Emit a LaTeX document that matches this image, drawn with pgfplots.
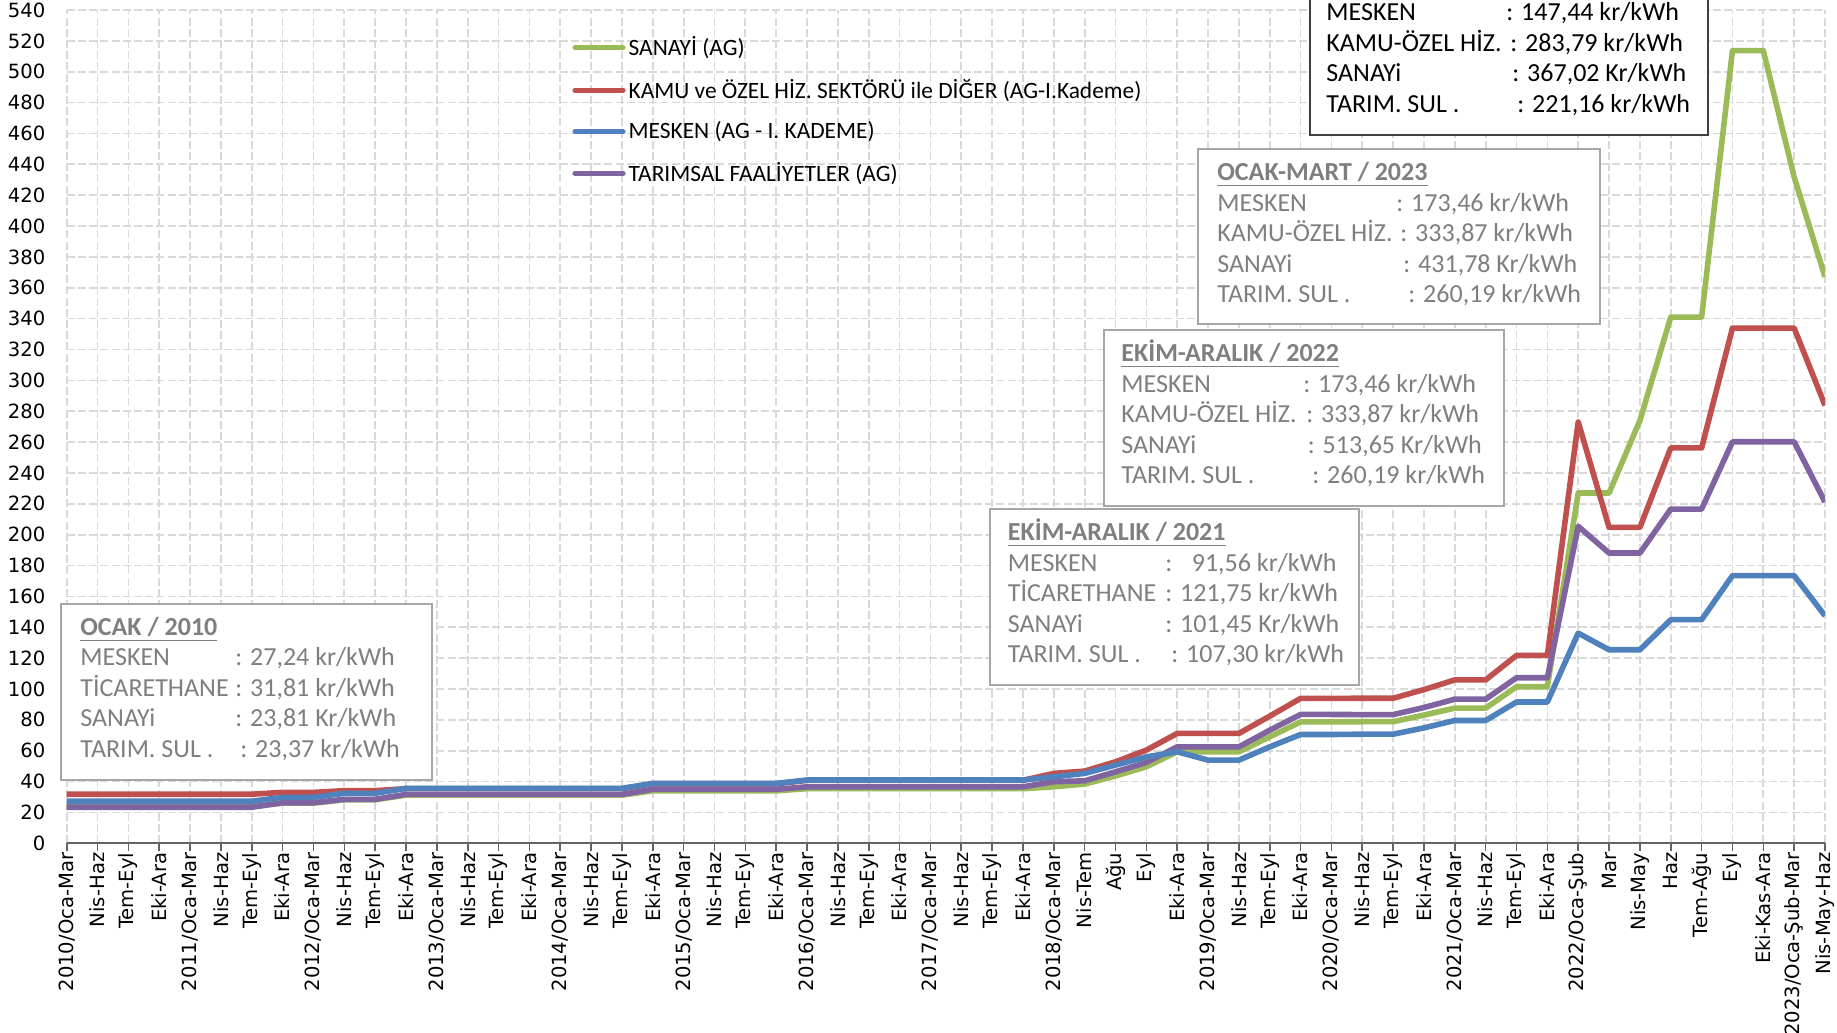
\documentclass[border=0pt]{standalone}
\usepackage{fontspec}
\usepackage{pgfplots}
\usepackage{pgfplotstable}
\pgfplotsset{compat=1.18}
\setmainfont{Carlito}
\newfontfamily\dejavu{DejaVu Sans}
\newcommand\tickf{\dejavu\fontsize{9.8pt}{11pt}\selectfont}
\newcommand\legf{\fontsize{11.7pt}{14pt}\selectfont}
\newcommand\annf{\fontsize{13pt}{15pt}\selectfont}
\definecolor{sanayi}{RGB}{155,187,89}
\definecolor{kamu}{RGB}{192,80,77}
\definecolor{mesken}{RGB}{79,129,189}
\definecolor{tarim}{RGB}{128,100,162}
\definecolor{gridgray}{RGB}{217,217,217}
\definecolor{axisgray}{RGB}{100,100,100}
\definecolor{anngray}{RGB}{127,127,127}
\definecolor{boxgray}{RGB}{166,166,166}

\pgfplotstableread{
i g r b p
0 23.81 31.81 27.24 23.37
1 23.81 31.81 27.24 23.37
2 23.81 31.81 27.24 23.37
3 23.81 31.81 27.24 23.37
4 23.81 31.81 27.24 23.37
5 23.81 31.81 27.24 23.37
6 23.81 31.81 27.24 23.37
7 26.0 33.0 29.8 26.3
8 26.0 33.0 29.8 26.3
9 28.2 34.1 32.4 28.5
10 28.2 34.1 32.4 28.5
11 31.2 35.4 35.6 31.7
12 31.2 35.4 35.6 31.7
13 31.2 35.4 35.6 31.7
14 31.2 35.4 35.6 31.7
15 31.2 35.4 35.6 31.7
16 31.2 35.4 35.6 31.7
17 31.2 35.4 35.6 31.7
18 31.2 35.4 35.6 31.7
19 34.0 38.6 38.8 35.0
20 34.0 38.6 38.8 35.0
21 34.0 38.6 38.8 35.0
22 34.0 38.6 38.8 35.0
23 34.0 38.6 38.8 35.0
24 35.4 40.8 41.0 36.6
25 35.4 40.8 41.0 36.6
26 35.4 40.8 41.0 36.6
27 35.4 40.8 41.0 36.6
28 35.4 40.8 41.0 36.6
29 35.4 40.8 41.0 36.6
30 35.4 40.8 41.0 36.6
31 35.4 40.8 41.0 36.6
32 36.6 45.3 43.1 39.9
33 38.4 46.8 45.3 40.5
34 43.6 52.8 50.7 46.3
35 49.6 60.4 56.0 52.4
36 59.3 71.2 59.3 62.5
37 59.3 71.2 53.9 62.5
38 59.3 71.2 53.9 62.5
39 69.0 82.4 62.5 73.3
40 78.7 93.9 70.5 83.5
41 78.7 93.9 70.5 83.5
42 78.8 94.0 70.7 83.4
43 78.8 94.0 70.7 83.4
44 83.1 99.6 74.8 88.0
45 87.6 105.9 79.6 93.4
46 87.6 105.9 79.6 93.4
47 101.45 121.75 91.56 107.30
48 101.45 121.75 91.56 107.30
49 227.0 273.0 136.2 205.4
50 227.0 204.7 125.4 188.1
51 274.0 204.7 125.4 188.1
52 341.0 256.2 144.9 216.6
53 341.0 256.2 144.9 216.6
54 513.65 333.87 173.46 260.19
55 513.65 333.87 173.46 260.19
56 431.78 333.87 173.46 260.19
57 367.02 283.79 147.44 221.16
}\tarife

\begin{document}
\begin{tikzpicture}
\useasboundingbox (0pt,0pt) rectangle (918.5pt,516.5pt);
\begin{axis}[
  at={(33.35pt,94.85pt)}, anchor=south west,
  width=879.15pt, height=416.65pt, scale only axis,
  xmin=0, xmax=57, ymin=0, ymax=540,
  enlargelimits=false,
  axis x line*=bottom, axis y line*=left,
  y axis line style={draw=none},
  x axis line style={draw=axisgray, line width=1pt, -},
  xtick={0,...,57},
  xticklabels={2010/Oca-Mar,Nis-Haz,Tem-Eyl,Eki-Ara,
    2011/Oca-Mar,Nis-Haz,Tem-Eyl,Eki-Ara,
    2012/Oca-Mar,Nis-Haz,Tem-Eyl,Eki-Ara,
    2013/Oca-Mar,Nis-Haz,Tem-Eyl,Eki-Ara,
    2014/Oca-Mar,Nis-Haz,Tem-Eyl,Eki-Ara,
    2015/Oca-Mar,Nis-Haz,Tem-Eyl,Eki-Ara,
    2016/Oca-Mar,Nis-Haz,Tem-Eyl,Eki-Ara,
    2017/Oca-Mar,Nis-Haz,Tem-Eyl,Eki-Ara,
    2018/Oca-Mar,Nis-Tem,Ağu,Eyl,Eki-Ara,
    2019/Oca-Mar,Nis-Haz,Tem-Eyl,Eki-Ara,
    2020/Oca-Mar,Nis-Haz,Tem-Eyl,Eki-Ara,
    2021/Oca-Mar,Nis-Haz,Tem-Eyl,Eki-Ara,
    2022/Oca-Şub,Mar,Nis-May,Haz,Tem-Ağu,Eyl,Eki-Kas-Ara,
    2023/Oca-Şub-Mar,Nis-May-Haz},
  ytick={0,20,...,540},
  grid=major,
  grid style={dash pattern=on 4pt off 1.6pt, draw=gridgray, line width=0.85pt},
  tick align=outside,
  major tick length=4pt,
  xtick style={draw=axisgray, line width=0.8pt},
  ytick style={draw=none},
  x tick label style={rotate=90, anchor=east, font=\tickf, inner sep=0.5pt},
  y tick label style={font=\tickf, anchor=east, inner sep=0pt, xshift=-6.5pt},
  /pgf/number format/assume math mode=true,
  legend style={at={(0.2874,0.972)}, anchor=north west, draw=none, fill=none,
    font=\legf, row sep=7.2pt, inner sep=0pt,
    nodes={inner sep=1.5pt, anchor=west}},
  legend cell align=left,
  legend image code/.code={\draw[#1, line cap=round] (0pt,0pt) -- (24pt,0pt);},
]
\addlegendimage{sanayi, line width=2.6pt}
\addlegendentry{SANAYİ (AG)}
\addlegendimage{kamu, line width=2.6pt}
\addlegendentry{KAMU ve ÖZEL HİZ. SEKTÖRÜ ile DİĞER (AG-I.Kademe)}
\addlegendimage{mesken, line width=2.6pt}
\addlegendentry{MESKEN (AG - I. KADEME)}
\addlegendimage{tarim, line width=2.6pt}
\addlegendentry{TARIMSAL FAALİYETLER (AG)}
\addplot[sanayi, line width=2.8pt, line join=round, forget plot] table[x=i,y=g]{\tarife};
\addplot[kamu, line width=2.8pt, line join=round, forget plot] table[x=i,y=r]{\tarife};
\addplot[tarim, line width=2.8pt, line join=round, forget plot] table[x=i,y=p]{\tarife};
\addplot[mesken, line width=2.8pt, line join=round, forget plot] table[x=i,y=b]{\tarife};
\end{axis}
\begin{scope}[shift={(0pt,516.5pt)}, x=0.5pt, y=-0.5pt,
  ann/.style={font=\annf, text=anngray, anchor=base west, inner sep=0pt},
  annb/.style={font=\annf, text=black, anchor=base west, inner sep=0pt}]
  % OCAK / 2010
  \draw[boxgray, fill=white, line width=0.8pt] (61,604) rectangle (432,780);
  \node[ann] at (80,636) {\textbf{\underline{OCAK / 2010}}};
  \node[ann] at (80,666) {MESKEN};        \node[ann] at (235,666) {: 27,24 kr/kWh};
  \node[ann] at (80,696.5) {TİCARETHANE}; \node[ann] at (235,696.5) {: 31,81 kr/kWh};
  \node[ann] at (80,727) {SANAYi};        \node[ann] at (235,727) {: 23,81 Kr/kWh};
  \node[ann] at (80,757.5) {TARIM. SUL .}; \node[ann] at (240,757.5) {: 23,37 kr/kWh};
  % EKIM-ARALIK / 2021
  \draw[boxgray, fill=white, line width=0.8pt] (990,509) rectangle (1359,685);
  \node[ann] at (1007.5,541) {\textbf{\underline{EKİM-ARALIK / 2021}}};
  \node[ann] at (1007.5,571.5) {MESKEN};        \node[ann] at (1165,571.5) {:\hspace{0.75em}91,56 kr/kWh};
  \node[ann] at (1007.5,602) {TİCARETHANE}; \node[ann] at (1165,602) {: 121,75 kr/kWh};
  \node[ann] at (1007.5,632.5) {SANAYi};        \node[ann] at (1165,632.5) {: 101,45 Kr/kWh};
  \node[ann] at (1007.5,663) {TARIM. SUL .}; \node[ann] at (1171,663) {: 107,30 kr/kWh};
  % EKIM-ARALIK / 2022
  \draw[boxgray, fill=white, line width=0.8pt] (1104,330) rectangle (1504,506);
  \node[ann] at (1121,362) {\textbf{\underline{EKİM-ARALIK / 2022}}};
  \node[ann] at (1121,392.5) {MESKEN};          \node[ann] at (1303,392.5) {: 173,46 kr/kWh};
  \node[ann] at (1121,423) {KAMU-ÖZEL HİZ.};  \node[ann] at (1306,423) {: 333,87 kr/kWh};
  \node[ann] at (1121,453.5) {SANAYi};          \node[ann] at (1307.5,453.5) {: 513,65 Kr/kWh};
  \node[ann] at (1121,484) {TARIM. SUL .};   \node[ann] at (1312,484) {: 260,19 kr/kWh};
  % OCAK-MART / 2023
  \draw[boxgray, fill=white, line width=0.8pt] (1198,149) rectangle (1600,324);
  \node[ann] at (1217,181) {\textbf{\underline{OCAK-MART / 2023}}};
  \node[ann] at (1217,211.5) {MESKEN};          \node[ann] at (1396,211.5) {: 173,46 kr/kWh};
  \node[ann] at (1217,242) {KAMU-ÖZEL HİZ.};  \node[ann] at (1400,242) {: 333,87 kr/kWh};
  \node[ann] at (1217,272.5) {SANAYi};          \node[ann] at (1403,272.5) {: 431,78 Kr/kWh};
  \node[ann] at (1217,303) {TARIM. SUL .};   \node[ann] at (1408,303) {: 260,19 kr/kWh};
  % NISAN-HAZIRAN / 2023 (top cut off)
  \draw[black!75, fill=white, line width=0.9pt] (1310,-60) rectangle (1708,135);
  \node[annb] at (1326,20.7) {MESKEN};          \node[annb] at (1506,20.7) {: 147,44 kr/kWh};
  \node[annb] at (1326,51.2) {KAMU-ÖZEL HİZ.};  \node[annb] at (1510,51.2) {: 283,79 kr/kWh};
  \node[annb] at (1326,81.7) {SANAYi};          \node[annb] at (1512,81.7) {: 367,02 Kr/kWh};
  \node[annb] at (1326,112.2) {TARIM. SUL .};   \node[annb] at (1517,112.2) {: 221,16 kr/kWh};
\end{scope}
\end{tikzpicture}
\end{document}
